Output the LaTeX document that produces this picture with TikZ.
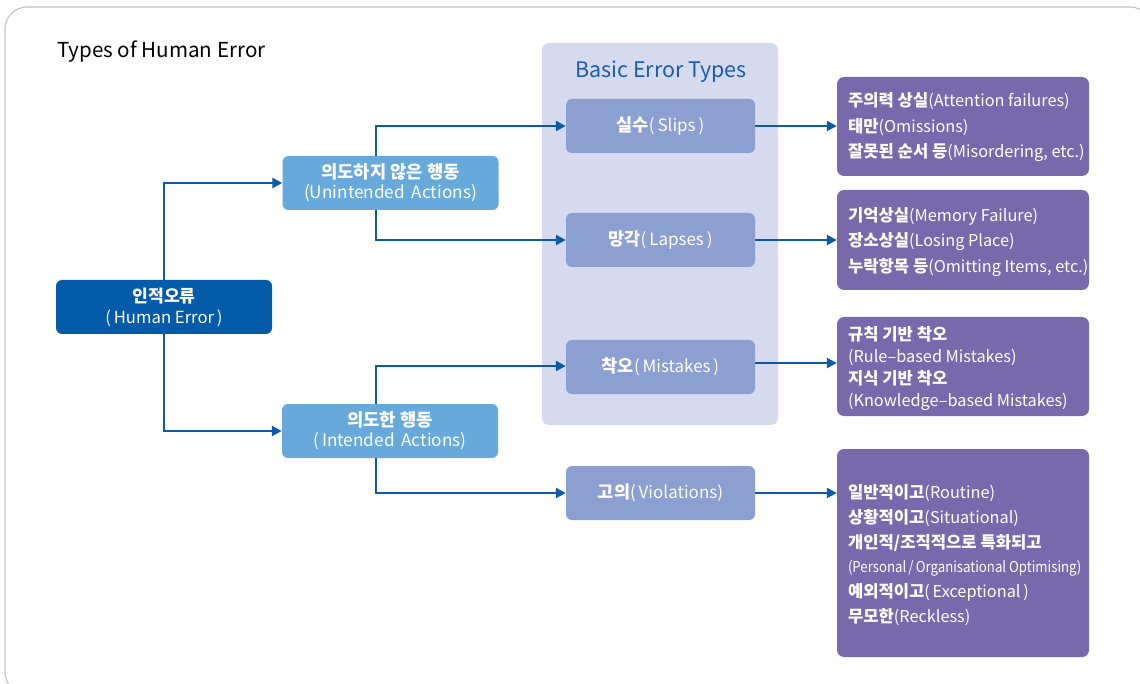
\documentclass[tikz,border=0pt]{standalone}
\usepackage{fontspec}
\usepackage{graphicx}
\setmainfont{Noto Sans CJK KR}
\newfontfamily\krsmall{Noto Sans CJK KR}[Scale=1.03]
\newfontfamily\krbig{Noto Sans CJK KR}[Scale=1.02]
\usetikzlibrary{arrows.meta}

\definecolor{framegray}{HTML}{C2C2C2}
\definecolor{rootblue}{HTML}{045BAA}
\definecolor{actblue}{HTML}{68A9DC}
\definecolor{panelbg}{HTML}{D5DAEE}
\definecolor{typebox}{HTML}{8B9FD0}
\definecolor{detailbox}{HTML}{7869AD}
\definecolor{linkblue}{HTML}{0C5BAA}
\definecolor{headblue}{HTML}{1A5DAB}

% Korean words are set bold, a touch larger than the Latin text
\newcommand\krcur{\krsmall}
\newcommand\kb[1]{{\krcur\bfseries #1}}

\tikzset{
  box/.style={rounded corners=6pt, minimum height=54pt, inner sep=0pt,
    text=white, align=center},
  rootbox/.style={box, fill=rootblue, minimum width=216pt,
    font=\fontsize{16.7}{21}\selectfont},
  actbox/.style={box, fill=actblue, minimum width=216pt,
    font=\fontsize{17.2}{20}\selectfont},
  typenode/.style={box, fill=typebox, minimum width=189pt,
    font=\fontsize{17}{20}\selectfont},
  detail/.style={rounded corners=7pt, fill=detailbox, minimum width=252pt,
    inner sep=0pt},
  dtext/.style={anchor=west, text=white, align=left, inner sep=0pt,
    font=\fontsize{16.3}{25.5}\selectfont\let\krcur\krbig},
  link/.style={draw=linkblue, line width=2.4pt,
    -{Triangle[length=10pt,width=10pt]}},
}

\begin{document}
\begin{tikzpicture}[x=1pt,y=-1pt]
\useasboundingbox (0,0) rectangle (1140,684);

% outer frame
\draw[framegray, line width=1.1pt, rounded corners=22pt]
  (5,7) rectangle (1152,694);

% heading
\node[anchor=west, inner sep=0pt, font=\fontsize{20.6}{22}\selectfont] (title)
  at (57,52) {Types of Human Error};

% panel of basic error types
\node[fill=panelbg, rounded corners=7pt, minimum width=236pt,
  minimum height=382pt, inner sep=0pt] (panel) at (660,234) {};
\node[text=headblue, font=\fontsize{21.4}{22}\selectfont] (paneltitle)
  at (661,72) {Basic Error Types};

% root and action nodes
\node[rootbox] (he) at (164,307) {\kb{인적오류}\\(\,Human Error\,)};
\node[actbox] (un) at (390.5,183) {\kb{의도하지 않은 행동}\\(Unintended\, Actions)};
\node[actbox] (in) at (390,431) {\kb{의도한 행동}\\(\,Intended\, Actions)};

% basic error types
\node[typenode] (slips) at (660.5,126) {\kb{실수}(\,Slips\,)};
\node[typenode] (lapses) at (660.5,240) {\kb{망각}(\,Lapses\,)};
\node[typenode] (mist) at (660.5,367) {\kb{착오}(\,Mistakes\,)};
\node[typenode] (viol) at (660.5,493) {\kb{고의}(\,Violations)};

% detail boxes
\node[detail, minimum height=99pt] (d1) at (963,126.5) {};
\node[detail, minimum height=100pt] (d2) at (963,240) {};
\node[detail, minimum height=99pt] (d3) at (963,366.5) {};
\node[detail, minimum height=208pt] (d4) at (963,553) {};

% detail texts (yshift is in page units: negative moves down)
\node[dtext] (d1t) at ([xshift=11pt,yshift=-1pt]d1.west)
  {\kb{주의력 상실}(Attention failures)\\
   \kb{태만}(Omissions)\\
   \kb{잘못된 순서 등}(Misordering, etc.)};
\node[dtext] (d2t) at ([xshift=11pt,yshift=-2pt]d2.west)
  {\kb{기억상실}(Memory Failure)\\
   \kb{장소상실}(Losing Place)\\
   \kb{누락항목 등}(Omitting Items, etc.)};
\node[dtext, font=\fontsize{16.3}{22}\selectfont\let\krcur\krbig] (d3t)
  at ([xshift=11pt,yshift=-2pt]d3.west)
  {\kb{규칙 기반 착오}\\
   (Rule–based Mistakes)\\
   \kb{지식 기반 착오}\\
   (Knowledge–based Mistakes)};
\node[dtext, font=\fontsize{16.3}{24.8}\selectfont\let\krcur\krbig] (d4t)
  at ([xshift=11pt,yshift=-2pt]d4.west)
  {\kb{일반적이고}(Routine)\\
   \kb{상황적이고}(Situational)\\
   \kb{개인적/조직적으로 특화되고}\\
   \scalebox{0.88}[1]{\fontsize{15}{24}\selectfont(Personal\,/\,Organisational Optimising)}\\
   \kb{예외적이고}(\,Exceptional\,)\\
   \kb{무모한}(Reckless)};

% connectors
\draw[link] (he.north) |- (un.west);
\draw[link] (he.south) |- (in.west);
\draw[link] ([xshift=-14.5pt]un.north) |- (slips.west);
\draw[link] ([xshift=-14.5pt]un.south) |- (lapses.west);
\draw[link] ([xshift=-14pt]in.north) |- ([yshift=1pt]mist.west);
\draw[link] ([xshift=-14pt]in.south) |- (viol.west);
\draw[link] (slips.east) -- (slips.east -| d1.west);
\draw[link] (lapses.east) -- (lapses.east -| d2.west);
\draw[link] ([yshift=4pt]mist.east) -- ([yshift=4pt]mist.east -| d3.west);
\draw[link] (viol.east) -- (viol.east -| d4.west);
\end{tikzpicture}
\end{document}
